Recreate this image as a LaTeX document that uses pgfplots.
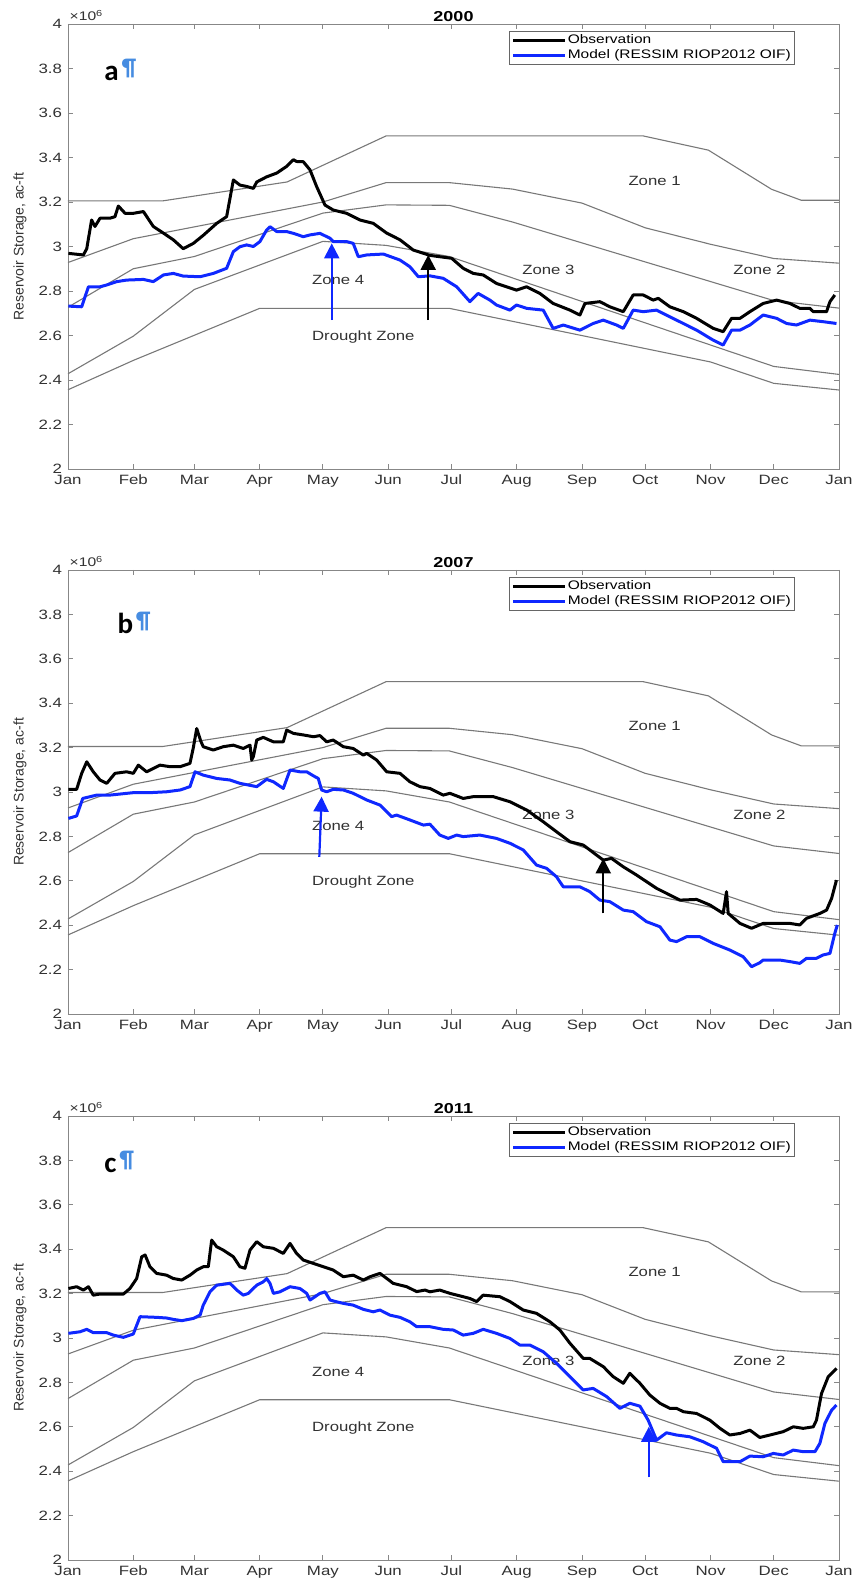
\documentclass[border=0pt]{standalone}
\usepackage{pgfplots}
\pgfplotsset{compat=1.18}
\usepackage{fontspec}
\setmainfont{Liberation Sans}[FakeStretch=1.25]
\newfontfamily\plainsans{Liberation Sans}
\newfontfamily\carlito{Carlito}
\usetikzlibrary{arrows.meta}
\definecolor{zonegray}{RGB}{120,120,120}
\definecolor{axgray}{RGB}{135,135,135}
\definecolor{tickgray}{RGB}{50,50,50}
\definecolor{modelblue}{RGB}{15,40,255}
\definecolor{pilcrow}{RGB}{70,140,225}

\pgfplotsset{
  panel/.style={
    scale only axis, width=771pt, anchor=south west,
    clip mode=individual,
    xmin=0, xmax=366, ymin=2, ymax=4,
    xtick={0,31,60,91,121,152,182,213,244,274,305,335,366},
    xticklabels={Jan,Feb,Mar,Apr,May,Jun,Jul,Aug,Sep,Oct,Nov,Dec,Jan},
    ytick={2,2.2,2.4,2.6,2.8,3,3.2,3.4,3.6,3.8,4},
    tick align=inside, major tick length=5pt,
    axis line style={axgray, line width=0.9pt},
    every tick/.style={axgray, line width=0.9pt},
    tick label style={font=\fontsize{13.5}{14}\selectfont, text=tickgray, inner sep=0.8pt},
    xticklabel style={yshift=-5pt},
    yticklabel style={xshift=-5pt},
    /pgf/number format/assume math mode=true,
    ylabel={Reservoir Storage, ac-ft},
    every axis y label/.style={at={(axis description cs:-0.0623,0.5)}, rotate=90, anchor=center,
      font=\plainsans\fontsize{14}{14}\selectfont, text=tickgray},
    every axis title shift=0pt,
    title style={at={(axis description cs:0.5,1)}, anchor=base, yshift=2.5pt, inner sep=0pt,
      font=\fontsize{14.4}{14.4}\selectfont\bfseries},
    legend style={at={(axis description cs:0.943,0.984)}, anchor=north east,
      draw=black!60, line width=0.8pt, fill=white,
      font=\fontsize{12.4}{12.4}\selectfont, inner xsep=3pt, inner ysep=2pt,
      row sep=0.5pt,
      nodes={inner sep=0.8pt, text height=9.5pt, text depth=3pt},
      cells={anchor=west}},
    legend image code/.code={\draw[#1] (0pt,0pt) -- (52pt,0pt);},
    obs/.style={black, line width=3pt, line join=round},
    mod/.style={modelblue, line width=3pt, line join=round},
    zone/.style={zonegray, line width=1.1pt, forget plot},
  }
}

\newcommand{\zonecurves}{%
  \addplot[zone] coordinates {(0,3.205) (45,3.205) (104,3.29) (151,3.497) (273,3.497) (304,3.433) (334,3.257) (348,3.208) (366,3.208)};
  \addplot[zone] coordinates {(0,2.928) (31,3.035) (121,3.2) (151,3.287) (181,3.287) (211,3.258) (244,3.195) (274,3.084) (305,3.01) (335,2.946) (366,2.925)};
  \addplot[zone] coordinates {(0,2.727) (31,2.9) (60,2.955) (121,3.15) (151,3.187) (181,3.185) (211,3.11) (335,2.757) (366,2.723)};
  \addplot[zone] coordinates {(0,2.428) (31,2.597) (60,2.807) (121,3.023) (151,3.005) (181,2.955) (335,2.461) (366,2.425)};
  \addplot[zone] coordinates {(0,2.356) (31,2.488) (91,2.722) (181,2.722) (305,2.481) (335,2.385) (366,2.355)};
  \node[anchor=base west, font=\fontsize{13.4}{13.4}\selectfont, text=tickgray] at (axis cs:264.4,3.276) {Zone 1};
  \node[anchor=base west, font=\fontsize{13.4}{13.4}\selectfont, text=tickgray] at (axis cs:314.2,2.875) {Zone 2};
  \node[anchor=base west, font=\fontsize{13.4}{13.4}\selectfont, text=tickgray] at (axis cs:214.0,2.875) {Zone 3};
  \node[anchor=base west, font=\fontsize{13.4}{13.4}\selectfont, text=tickgray] at (axis cs:114.2,2.827) {Zone 4};
  \node[anchor=base west, font=\fontsize{13.4}{13.4}\selectfont, text=tickgray] at (axis cs:114.2,2.577) {Drought Zone};
  \node[anchor=base west, inner sep=0pt, font=\fontsize{12.5}{12.5}\selectfont, text=tickgray] at (axis description cs:0.002,1) [yshift=3.3pt] {×10\textsuperscript{6}};
}

\begin{document}
\begin{tikzpicture}
\useasboundingbox (0pt,0pt) rectangle (855pt,1585pt);

% ---------------- panel a: 2000 ----------------
\begin{axis}[panel, at={(68pt,1116pt)}, height=445pt, title={2000}]
\zonecurves
\addplot[obs] coordinates {
(0.2,2.969) (7.3,2.962) (8.9,2.99) (11.2,3.119) (12.8,3.09) (15.2,3.127) (19.9,3.127) (22.3,3.134)
(23.9,3.182) (27.1,3.149) (31.0,3.149) (35.8,3.157) (40.5,3.09) (45.3,3.06) (50.0,3.03) (54.7,2.99)
(59.5,3.014) (64.2,3.05) (70.6,3.104) (75.3,3.134) (78.5,3.299) (81.6,3.276) (84.8,3.27) (88.0,3.261)
(89.6,3.29) (94.3,3.313) (99.1,3.33) (103.8,3.36) (107.0,3.39) (108.5,3.382) (111.7,3.381) (114.9,3.344)
(118.0,3.27) (122.0,3.186) (125.9,3.164) (132.3,3.149) (138.6,3.119) (144.9,3.104) (151.3,3.06)
(157.6,3.03) (163.9,2.984) (171.8,2.96) (176.5,2.954) (182.1,2.947) (187.6,2.902) (192.4,2.879)
(197.1,2.872) (203.4,2.834) (212.9,2.804) (217.7,2.819) (224.0,2.789) (230.3,2.744) (238.3,2.714)
(243.0,2.692) (245.4,2.744) (252.5,2.752) (257.2,2.729) (263.6,2.707) (268.3,2.782) (273.1,2.782)
(277.8,2.759) (280.2,2.767) (285.7,2.729) (292.1,2.707) (298.4,2.677) (306.3,2.632) (311.0,2.617)
(315.0,2.677) (319.0,2.677) (323.7,2.707) (330.0,2.744) (336.4,2.759) (342.7,2.744) (347.4,2.722)
(352.2,2.722) (353.8,2.707) (360.1,2.707) (361.7,2.752) (364.0,2.782)};
\addplot[mod] coordinates {
(0.2,2.732) (6.5,2.729) (9.7,2.819) (15.2,2.819) (18.4,2.827) (23.1,2.842) (27.8,2.849) (35.8,2.852)
(40.5,2.842) (45.3,2.872) (50.0,2.879) (54.7,2.867) (62.7,2.864) (69.0,2.879) (75.3,2.902) (78.5,2.977)
(81.6,2.999) (84.8,3.007) (88.0,3.0) (91.1,3.022) (94.3,3.074) (95.9,3.089) (99.1,3.067) (103.8,3.067)
(107.0,3.059) (111.7,3.044) (114.9,3.052) (119.6,3.059) (124.4,3.037) (125.9,3.022) (132.3,3.022)
(135.4,3.014) (137.8,2.954) (141.8,2.962) (149.7,2.966) (157.6,2.939) (162.3,2.909) (166.3,2.864)
(171.8,2.868) (178.1,2.857) (184.5,2.819) (190.8,2.752) (194.7,2.789) (200.3,2.759) (203.4,2.737)
(209.8,2.714) (212.9,2.737) (217.7,2.722) (225.6,2.714) (230.3,2.632) (235.1,2.647) (243.0,2.624)
(249.3,2.654) (254.1,2.669) (260.4,2.647) (263.6,2.632) (268.3,2.714) (273.1,2.707) (279.4,2.714)
(285.7,2.684) (292.1,2.654) (298.4,2.624) (306.3,2.579) (311.0,2.557) (315.0,2.624) (319.0,2.624)
(323.7,2.647) (330.0,2.692) (336.4,2.677) (341.1,2.654) (345.8,2.647) (352.2,2.669) (358.5,2.662)
(364.8,2.654)};
\legend{Observation, Model (RESSIM RIOP2012 OIF)}
\draw[modelblue, line width=2.2pt, -{Triangle[width=15pt,length=15pt]}] (axis cs:125.2,2.669) -- (axis cs:125.2,3.014);
\draw[black, line width=2.2pt, -{Triangle[width=15pt,length=15pt]}] (axis cs:171.0,2.669) -- (axis cs:171.0,2.962);
\node[anchor=base west, inner sep=0pt] at (axis description cs:0.047,0.874) {\carlito\bfseries\fontsize{29}{29}\selectfont a\hspace{3pt}\raisebox{5pt}{\color{pilcrow}\fontsize{24}{24}\selectfont ¶}};
\end{axis}

% ---------------- panel b: 2007 ----------------
\begin{axis}[panel, at={(68pt,571pt)}, height=444pt, title={2007}]
\zonecurves
\addplot[obs] coordinates {
(0.2,3.012) (4.1,3.012) (6.5,3.084) (8.9,3.136) (12.0,3.091) (15.2,3.054) (18.4,3.039) (22.3,3.084)
(27.8,3.091) (31.0,3.084) (33.4,3.121) (37.3,3.091) (43.7,3.121) (48.4,3.114) (53.2,3.114) (57.9,3.129)
(59.5,3.20) (61.1,3.286) (63.0,3.23) (64.2,3.204) (69.0,3.189) (73.7,3.204) (78.5,3.211) (83.2,3.196)
(86.4,3.211) (87.2,3.144) (88.0,3.16) (89.6,3.234) (92.7,3.246) (97.5,3.226) (102.2,3.226) (103.8,3.279)
(107.0,3.264) (111.7,3.257) (116.5,3.249) (119.6,3.254) (122.8,3.226) (125.9,3.234) (130.7,3.204)
(135.4,3.196) (140.2,3.166) (141.8,3.174) (146.5,3.144) (151.3,3.091) (157.6,3.084) (162.3,3.046)
(167.1,3.024) (171.8,3.016) (178.1,2.986) (181.3,2.994) (187.6,2.971) (192.4,2.979) (201.9,2.979)
(209.8,2.956) (217.7,2.919) (225.6,2.866) (231.9,2.821) (238.3,2.776) (244.6,2.761) (250.9,2.716)
(254.1,2.693) (258.0,2.701) (263.6,2.663) (269.9,2.626) (279.4,2.566) (285.7,2.536) (290.5,2.513)
(298.4,2.516) (304.7,2.491) (311.0,2.453) (311.8,2.50) (312.6,2.551) (313.4,2.453) (319.0,2.408)
(324.5,2.386) (330.0,2.408) (336.4,2.408) (342.7,2.408) (347.4,2.401) (350.6,2.431) (356.9,2.453)
(360.1,2.468) (362.5,2.521) (364.8,2.603)};
\addplot[mod] coordinates {
(0.2,2.881) (4.1,2.892) (7.0,2.971) (13.6,2.986) (19.9,2.986) (31.0,2.997) (38.9,2.997) (46.8,3.001)
(53.2,3.009) (57.9,3.024) (60.3,3.091) (64.2,3.076) (70.6,3.061) (76.9,3.054) (81.6,3.039) (89.6,3.024)
(94.3,3.057) (97.5,3.046) (102.2,3.016) (105.4,3.099) (110.1,3.091) (113.3,3.091) (117.2,3.069)
(118.8,3.061) (120.4,3.009) (122.8,3.001) (125.9,3.012) (130.7,3.009) (135.4,2.994) (141.8,2.964)
(148.1,2.941) (153.6,2.889) (156.0,2.896) (162.3,2.874) (168.7,2.851) (171.8,2.855) (176.5,2.806)
(180.5,2.791) (184.5,2.806) (187.6,2.799) (195.5,2.806) (203.4,2.791) (209.8,2.769) (216.1,2.739)
(222.4,2.671) (227.2,2.656) (231.9,2.618) (235.1,2.573) (243.0,2.573) (247.7,2.551) (252.5,2.513)
(257.2,2.506) (263.6,2.468) (268.3,2.461) (274.6,2.416) (281.0,2.393) (285.7,2.333) (288.9,2.326)
(293.6,2.348) (300.0,2.348) (306.3,2.318) (314.2,2.288) (320.5,2.258) (324.5,2.213) (328.4,2.231)
(330.0,2.243) (337.9,2.243) (342.7,2.236) (347.4,2.228) (350.6,2.251) (355.3,2.251) (358.5,2.266)
(361.7,2.273) (364.0,2.363) (365.2,2.401)};
\legend{Observation, Model (RESSIM RIOP2012 OIF)}
\draw[modelblue, line width=2.2pt, -{Triangle[width=15pt,length=15pt]}] (axis cs:119.3,2.708) -- (axis cs:120.4,2.979);
\draw[black, line width=2.2pt, -{Triangle[width=15pt,length=15pt]}] (axis cs:254.1,2.453) -- (axis cs:254.1,2.701);
\node[anchor=base west, inner sep=0pt] at (axis description cs:0.064,0.858) {\carlito\bfseries\fontsize{29}{29}\selectfont b\hspace{3pt}\raisebox{5pt}{\color{pilcrow}\fontsize{24}{24}\selectfont ¶}};
\end{axis}

% ---------------- panel c: 2011 ----------------
\begin{axis}[panel, at={(68pt,25pt)}, height=444pt, title={2011}]
\zonecurves
\addplot[obs] coordinates {
(0.2,3.223) (4.1,3.231) (7.3,3.216) (9.7,3.231) (12.0,3.193) (15.2,3.198) (19.9,3.198) (26.3,3.198)
(29.4,3.223) (32.6,3.268) (35.0,3.366) (36.6,3.374) (38.9,3.321) (42.1,3.291) (46.8,3.283) (50.0,3.268)
(54.0,3.261) (57.9,3.283) (61.1,3.306) (64.2,3.321) (66.6,3.321) (68.2,3.441) (70.6,3.411) (73.7,3.396)
(78.5,3.366) (81.6,3.321) (84.0,3.314) (86.4,3.396) (89.6,3.434) (92.7,3.411) (97.5,3.404) (102.2,3.381)
(105.4,3.426) (108.5,3.381) (111.7,3.351) (116.5,3.336) (121.2,3.321) (125.9,3.306) (130.7,3.276)
(135.4,3.283) (140.2,3.261) (143.4,3.276) (148.1,3.291) (154.4,3.246) (160.8,3.231) (165.5,3.209)
(169.5,3.216) (171.8,3.208) (176.5,3.216) (181.3,3.201) (187.6,3.186) (190.8,3.178) (194.0,3.164)
(197.1,3.193) (205.0,3.186) (209.8,3.164) (216.1,3.126) (222.4,3.111) (228.8,3.073) (233.5,3.036)
(238.3,2.976) (244.6,2.908) (247.7,2.908) (254.1,2.871) (258.8,2.826) (263.6,2.796) (266.7,2.841)
(271.5,2.796) (276.2,2.743) (281.0,2.706) (285.7,2.683) (288.9,2.683) (292.1,2.668) (298.4,2.660)
(304.7,2.630) (309.5,2.593) (314.2,2.563) (319.0,2.570) (323.7,2.585) (328.4,2.552) (333.2,2.563)
(339.5,2.578) (344.3,2.600) (349.0,2.593) (353.8,2.600) (355.3,2.630) (357.7,2.750) (360.9,2.826)
(364.8,2.863)};
\addplot[mod] coordinates {
(0.2,3.021) (5.7,3.028) (8.9,3.039) (12.0,3.024) (18.4,3.024) (21.5,3.013) (26.3,3.003) (31.0,3.018)
(34.2,3.096) (42.1,3.093) (46.8,3.09) (50.0,3.084) (54.0,3.078) (59.5,3.088) (62.7,3.103) (64.2,3.148)
(67.4,3.208) (70.6,3.238) (76.9,3.246) (80.1,3.216) (83.2,3.193) (85.6,3.201) (89.6,3.238) (92.7,3.253)
(94.3,3.268) (95.9,3.246) (97.5,3.201) (100.6,3.208) (105.4,3.231) (110.1,3.223) (113.3,3.201)
(114.9,3.171) (119.6,3.201) (122.0,3.208) (124.4,3.171) (127.5,3.163) (130.7,3.156) (135.4,3.148)
(140.2,3.129) (144.9,3.118) (148.1,3.126) (152.8,3.103) (157.6,3.093) (162.3,3.073) (165.5,3.051)
(171.8,3.051) (178.1,3.039) (182.9,3.036) (187.6,3.013) (192.4,3.021) (197.1,3.039) (203.4,3.021)
(209.8,2.998) (214.5,2.968) (219.3,2.968) (225.6,2.938) (231.9,2.886) (238.3,2.826) (244.6,2.766)
(249.3,2.773) (255.7,2.736) (262.0,2.683) (266.7,2.706) (271.5,2.693) (275.4,2.630) (279.4,2.540)
(284.1,2.573) (288.9,2.563) (295.2,2.555) (301.5,2.533) (307.9,2.503) (311.0,2.443) (315.8,2.443)
(319.0,2.443) (323.7,2.468) (330.0,2.465) (334.8,2.480) (339.5,2.473) (344.3,2.495) (349.0,2.488)
(354.6,2.488) (356.9,2.525) (359.3,2.615) (362.5,2.675) (364.8,2.698)};
\legend{Observation, Model (RESSIM RIOP2012 OIF)}
\draw[modelblue, line width=2.2pt, -{Triangle[width=15pt,length=15pt]}] (axis cs:275.7,2.372) -- (axis cs:275.7,2.600);
\node[anchor=base west, inner sep=0pt] at (axis description cs:0.047,0.872) {\carlito\bfseries\fontsize{29}{29}\selectfont c\hspace{3pt}\raisebox{5pt}{\color{pilcrow}\fontsize{24}{24}\selectfont ¶}};
\end{axis}
\end{tikzpicture}
\end{document}
